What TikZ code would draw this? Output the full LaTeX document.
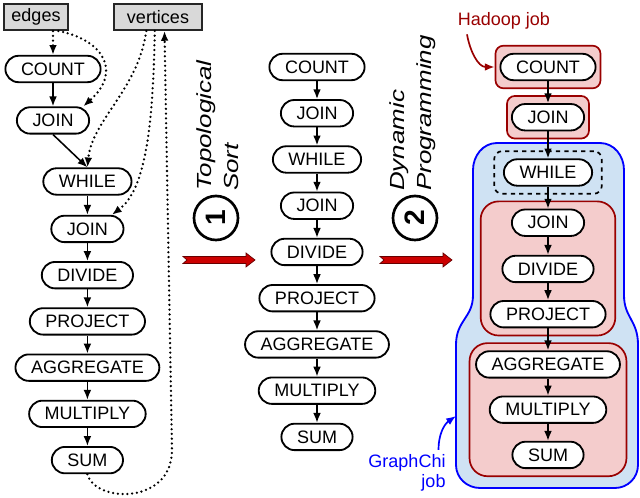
\documentclass[tikz,border=0pt]{standalone}
\usepackage{graphicx}
\usepackage{fontspec}
\setmainfont{Liberation Sans}
\usetikzlibrary{arrows,arrows.meta,positioning,shapes,fit,backgrounds}
\definecolor{jobred}{HTML}{990000}
\definecolor{jobpink}{HTML}{F4CCCC}
\definecolor{chiblue}{HTML}{0000FF}
\definecolor{chifill}{HTML}{CFE2F3}
\definecolor{stagered}{HTML}{CC0000}
\newcommand{\opfont}{\fontsize{12.8}{14}\selectfont}
\newcommand{\stagefont}{\fontsize{14.5}{19}\selectfont\itshape}
\newcommand{\wide}[1]{\scalebox{1.27}[1]{#1}}

\begin{document}
\begin{tikzpicture}[x=0.025cm, y=-0.025cm, node distance=0.45cm]
	\tikzstyle{opbox}
	  =[draw, rectangle, rounded corners=0.33cm, fill=white,
	  line width=1.3pt, minimum height=0.66cm, inner xsep=0.39cm,
	  inner ysep=0pt, font=\opfont]
	\tikzstyle{srcbox}
	  =[draw=black!85, rectangle, fill=black!15, line width=1.3pt,
	  minimum height=0.65cm, inner xsep=0.15cm, font=\opfont]
	\tikzstyle{flowarrow}=[-{Latex[length=7pt,width=5.5pt]}, line width=1.1pt]
	\tikzstyle{feedarrow}
	  =[-{Latex[length=7pt,width=5.5pt]}, line width=1.8pt, line cap=round,
	  dash pattern=on 0pt off 3.4pt]
	\tikzstyle{stepcircle}
	  =[draw, circle, line width=1.9pt, minimum size=1.1cm,
	  font=\fontsize{20}{20}\selectfont\bfseries, rotate=90]
	\tikzstyle{steplabel}
	  =[rotate=90, anchor=west, align=left, inner sep=0pt, font=\stagefont]
	\tikzstyle{fatarrow}=[fill=stagered, draw=black!60!red, line width=0.5pt]
	\tikzstyle{hjob}
	  =[draw=jobred, fill=jobpink, line width=1.2pt, rounded corners=0.2cm,
	  inner xsep=0.1cm, inner ysep=0.18cm]
	\tikzstyle{bigjob}
	  =[draw=jobred, fill=jobpink, line width=1.2pt, rounded corners=0.45cm,
	  inner ysep=0.18cm]

	% input data
	\node[srcbox, minimum width=1.58cm] (edges) at (36,17) {edges};
	\node[srcbox, minimum width=2.2cm] (vertices) at (158,17) {vertices};

	% plan as written
	\node[opbox] (lcount) at (53,69) {COUNT};
	\node[opbox] (ljoin) [below=0.58cm of lcount] {JOIN};
	\node[opbox] (lwhile) [below=0.82cm of ljoin, xshift=0.86cm] {WHILE};
	\node[opbox] (ljointwo) [below=0.48cm of lwhile] {JOIN};
	\node[opbox] (ldivide) [below=of ljointwo] {DIVIDE};
	\node[opbox] (lproject) [below=of ldivide] {PROJECT};
	\node[opbox] (lagg) [below=of lproject] {AGGREGATE};
	\node[opbox] (lmult) [below=of lagg] {MULTIPLY};
	\node[opbox] (lsum) [below=of lmult] {SUM};

	% sorted plan
	\node[opbox] (mcount) at (317,67) {COUNT};
	\node[opbox] (mjoin) [below=of mcount] {JOIN};
	\node[opbox] (mwhile) [below=of mjoin] {WHILE};
	\node[opbox] (mjointwo) [below=of mwhile] {JOIN};
	\node[opbox] (mdivide) [below=of mjointwo] {DIVIDE};
	\node[opbox] (mproject) [below=of mdivide] {PROJECT};
	\node[opbox] (magg) [below=of mproject] {AGGREGATE};
	\node[opbox] (mmult) [below=of magg] {MULTIPLY};
	\node[opbox] (msum) [below=of mmult] {SUM};

	% partitioned plan
	\node[opbox] (rcount) at (548,67) {COUNT};
	\node[opbox] (rjoin) [below=0.55cm of rcount] {JOIN};
	\node[opbox] (rwhile) [below=0.675cm of rjoin] {WHILE};
	\node[opbox] (rjointwo) [below=0.55cm of rwhile] {JOIN};
	\node[opbox] (rdivide) [below=of rjointwo] {DIVIDE};
	\node[opbox] (rproject) [below=0.425cm of rdivide] {PROJECT};
	\node[opbox] (ragg) [below=0.55cm of rproject] {AGGREGATE};
	\node[opbox] (rmult) [below=0.425cm of ragg] {MULTIPLY};
	\node[opbox] (rsum) [below=0.425cm of rmult] {SUM};

	% the two steps
	\node[stepcircle] (sortstep) at (216,218) {1};
	\node[steplabel] (sortlbl) at (218,191)
	  {\wide{Topological}\\\wide{Sort}};
	\node[stepcircle] (dpstep) at (415,218) {2};
	\node[steplabel] (dplbl) at (413,191)
	  {\wide{Dynamic}\\\wide{Programming}};

	\filldraw[fatarrow] (183,256.5) -- ++(63,0) -- ++(0,-3.5) -- ++(9,7)
	  -- ++(-9,7) -- ++(0,-3.5) -- ++(-63,0) -- ++(4,-3.5) -- cycle;
	\filldraw[fatarrow] (380,256.5) -- ++(63,0) -- ++(0,-3.5) -- ++(9,7)
	  -- ++(-9,7) -- ++(0,-3.5) -- ++(-63,0) -- ++(4,-3.5) -- cycle;

	% jobs
	\begin{scope}[on background layer]
	  \draw[chiblue, fill=chifill, line width=1.3pt]
	    (548,143) -- (600,143) to[out=0,in=90] (624,170) -- (624,295)
	    .. controls (624,318) and (638,320) .. (638,345) -- (638,465)
	    to[out=-90,in=0] (615,488) -- (480,488) to[out=180,in=-90] (456,465)
	    -- (456,345) .. controls (456,320) and (473,318) .. (473,295)
	    -- (473,170) to[out=90,in=180] (497,143) -- cycle;
	  \node[hjob, fit=(rcount)] (hboxone) {};
	  \node[hjob, fit=(rjoin)] (hboxtwo) {};
	  \node[draw, dashed, line width=1.2pt, rounded corners=0.2cm,
	    inner xsep=0.22cm, inner ysep=0.18cm, fit=(rwhile)] (loopbox) {};
	  \node[bigjob, inner xsep=0.22cm, fit=(rjointwo)(rproject)] (hboxthree) {};
	  \node[bigjob, inner xsep=0.14cm, fit=(ragg)(rsum)] (hboxfour) {};
	\end{scope}
	\coordinate (chiedge) at (456,416);

	\node[text=jobred, font=\opfont] (hlbl) at (504,21) {Hadoop job};
	\node[text=chiblue, font=\opfont, align=right] (gclbl) at (407,473)
	  {GraphChi\\job};
	\draw[jobred, -{Latex[length=7pt,width=5.5pt]}, line width=1.2pt]
	  ([xshift=0.35cm]hlbl.south west) to[out=-80, in=180] (hboxone.west);
	\draw[chiblue, -{Latex[length=7pt,width=5.5pt]}, line width=1.2pt]
	  ([xshift=-0.3cm]gclbl.north east) to[out=90, in=215] (chiedge);

	% data flow
	\draw[feedarrow] (edges.south -| lcount.north) -- (lcount.north);
	\draw[feedarrow] (edges.-32) .. controls (104,40) and (122,72) .. (ljoin.25);
	\draw[feedarrow] (vertices.-130) .. controls (138,90) and (92,120) .. (lwhile.north);
	\draw[feedarrow] (vertices.-103) .. controls (153,130) and (145,190) .. (ljointwo.30);
	\draw[feedarrow] (lsum.south) .. controls (95,503) and (172,505) .. (172,450)
	  -- (vertices.-65);

	\draw[flowarrow] (lcount)--(ljoin);
	\draw[flowarrow] (ljoin.south)--(lwhile.north);
	\draw[flowarrow] (lwhile)--(ljointwo);
	\draw[flowarrow] (ljointwo)--(ldivide);
	\draw[flowarrow] (ldivide)--(lproject);
	\draw[flowarrow] (lproject)--(lagg);
	\draw[flowarrow] (lagg)--(lmult);
	\draw[flowarrow] (lmult)--(lsum);

	\draw[flowarrow] (mcount)--(mjoin);
	\draw[flowarrow] (mjoin)--(mwhile);
	\draw[flowarrow] (mwhile)--(mjointwo);
	\draw[flowarrow] (mjointwo)--(mdivide);
	\draw[flowarrow] (mdivide)--(mproject);
	\draw[flowarrow] (mproject)--(magg);
	\draw[flowarrow] (magg)--(mmult);
	\draw[flowarrow] (mmult)--(msum);

	\draw[flowarrow] (rcount)--(rjoin);
	\draw[flowarrow] (rjoin)--(rwhile);
	\draw[flowarrow] (rwhile)--(rjointwo);
	\draw[flowarrow] (rjointwo)--(rdivide);
	\draw[flowarrow] (rdivide)--(rproject);
	\draw[flowarrow] (rproject)--(ragg);
	\draw[flowarrow] (ragg)--(rmult);
	\draw[flowarrow] (rmult)--(rsum);

	\pgfresetboundingbox
	\useasboundingbox (0,0) rectangle (640,498);
\end{tikzpicture}
\end{document}
